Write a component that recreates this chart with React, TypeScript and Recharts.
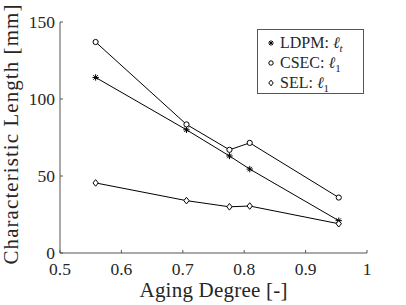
import React from "react";
import { LineChart, Line, XAxis, YAxis } from "recharts";

const agingDegree = [0.558, 0.706, 0.776, 0.809, 0.954];
const ldpmValues = [114, 80, 63, 54.5, 21];
const csecValues = [137, 83.5, 67, 71.5, 36];
const selValues = [45.5, 34, 30, 30.5, 19];

const xTicks = [0.5, 0.6, 0.7, 0.8, 0.9, 1];
const yTicks = [0, 50, 100, 150];

const data = agingDegree.map((x, i) => ({
  x,
  ldpm: ldpmValues[i],
  csec: csecValues[i],
  sel: selValues[i],
}));

const FONT = "'Liberation Serif', 'Times New Roman', serif";
const INK = "#262626";
const AXIS = "#555";

const Star = ({ cx, cy, r = 3.2 }: { cx: number; cy: number; r?: number }) => {
  const d = r * 0.7;
  return (
    <g stroke="#000" strokeWidth={1}>
      <line x1={cx - r} y1={cy} x2={cx + r} y2={cy} />
      <line x1={cx} y1={cy - r} x2={cx} y2={cy + r} />
      <line x1={cx - d} y1={cy - d} x2={cx + d} y2={cy + d} />
      <line x1={cx - d} y1={cy + d} x2={cx + d} y2={cy - d} />
    </g>
  );
};

const Circle = ({ cx, cy, r = 2.6 }: { cx: number; cy: number; r?: number }) => (
  <circle cx={cx} cy={cy} r={r} fill="#fff" stroke="#000" strokeWidth={1} />
);

const Diamond = ({ cx, cy, r = 3.3 }: { cx: number; cy: number; r?: number }) => (
  <path
    d={`M${cx},${cy - r}L${cx + r * 0.8},${cy}L${cx},${cy + r}L${cx - r * 0.8},${cy}Z`}
    fill="#fff"
    stroke="#000"
    strokeWidth={1}
  />
);

const XTick = (props: any) => {
  const { x, y, payload } = props;
  return (
    <g>
      <line x1={x} y1={y} x2={x} y2={y - 3} stroke={AXIS} />
      <text x={x} y={y + 22} textAnchor="middle" fontFamily={FONT} fontSize={17.5} fill={INK}>
        {payload.value}
      </text>
    </g>
  );
};

const YTick = (props: any) => {
  const { x, y, payload } = props;
  return (
    <g>
      <line x1={x} y1={y} x2={x + 3} y2={y} stroke={AXIS} />
      <text x={x - 5} y={y + 6} textAnchor="end" fontFamily={FONT} fontSize={17.5} fill={INK}>
        {payload.value}
      </text>
    </g>
  );
};

const legendItems = [
  { name: "LDPM", sub: "t", Marker: Star, r: 2.8 },
  { name: "CSEC", sub: "1", Marker: Circle, r: 2.2 },
  { name: "SEL", sub: "1", Marker: Diamond, r: 2.8 },
];

const LegendBox = () => (
  <div
    style={{
      position: "absolute",
      left: 257,
      top: 29,
      width: 99,
      border: `1px solid ${AXIS}`,
      background: "#fff",
      padding: "3px 0 0 6px",
      fontFamily: FONT,
      fontSize: 16,
      color: INK,
      lineHeight: "20px",
    }}
  >
    {legendItems.map(({ name, sub, Marker, r }) => (
      <div key={name} style={{ display: "flex", alignItems: "center", whiteSpace: "nowrap" }}>
        <svg width={14} height={12} style={{ marginRight: 2 }}>
          <Marker cx={7} cy={6} r={r} />
        </svg>
        <span>
          {name}: <i>ℓ</i>
          <sub style={{ fontSize: 11, lineHeight: 0, fontStyle: sub === "t" ? "italic" : "normal" }}>{sub}</sub>
        </span>
      </div>
    ))}
  </div>
);

export default function App() {
  return (
    <div style={{ position: "absolute", left: 0, top: 0, width: 406, height: 305, background: "#fff" }}>
      <LineChart width={406} height={305} data={data} margin={{ top: 22, right: 39, left: 0, bottom: 0 }}>
        <XAxis
          dataKey="x"
          type="number"
          domain={[0.5, 1]}
          ticks={xTicks}
          tickLine={false}
          tickSize={0}
          tickMargin={0}
          axisLine={{ stroke: AXIS }}
          tick={<XTick />}
          height={52}
          label={({ viewBox }: any) => (
            <text
              x={viewBox.x + viewBox.width / 2}
              y={viewBox.y + 44}
              textAnchor="middle"
              fontFamily={FONT}
              fontSize={21}
              fill={INK}
              textLength={148}
              lengthAdjust="spacing"
            >
              Aging Degree [-]
            </text>
          )}
        />
        <YAxis
          type="number"
          domain={[0, 150]}
          ticks={yTicks}
          tickLine={false}
          tickSize={0}
          tickMargin={0}
          axisLine={{ stroke: AXIS }}
          tick={<YTick />}
          width={60}
          label={({ viewBox }: any) => {
            const cx = 18;
            const cy = viewBox.y + viewBox.height / 2 - 3;
            return (
              <text
                x={cx}
                y={cy}
                transform={`rotate(-90 ${cx} ${cy})`}
                textAnchor="middle"
                fontFamily={FONT}
                fontSize={21}
                fill={INK}
                textLength={260}
                lengthAdjust="spacing"
              >
                Characteristic Length [mm]
              </text>
            );
          }}
        />
        <Line
          dataKey="ldpm"
          name="LDPM"
          stroke="#000"
          strokeWidth={1}
          dot={(p: any) => <Star key={`l${p.index}`} cx={p.cx} cy={p.cy} />}
          isAnimationActive={false}
        />
        <Line
          dataKey="csec"
          name="CSEC"
          stroke="#000"
          strokeWidth={1}
          dot={(p: any) => <Circle key={`c${p.index}`} cx={p.cx} cy={p.cy} />}
          isAnimationActive={false}
        />
        <Line
          dataKey="sel"
          name="SEL"
          stroke="#000"
          strokeWidth={1}
          dot={(p: any) => <Diamond key={`s${p.index}`} cx={p.cx} cy={p.cy} />}
          isAnimationActive={false}
        />
      </LineChart>
      <LegendBox />
    </div>
  );
}
